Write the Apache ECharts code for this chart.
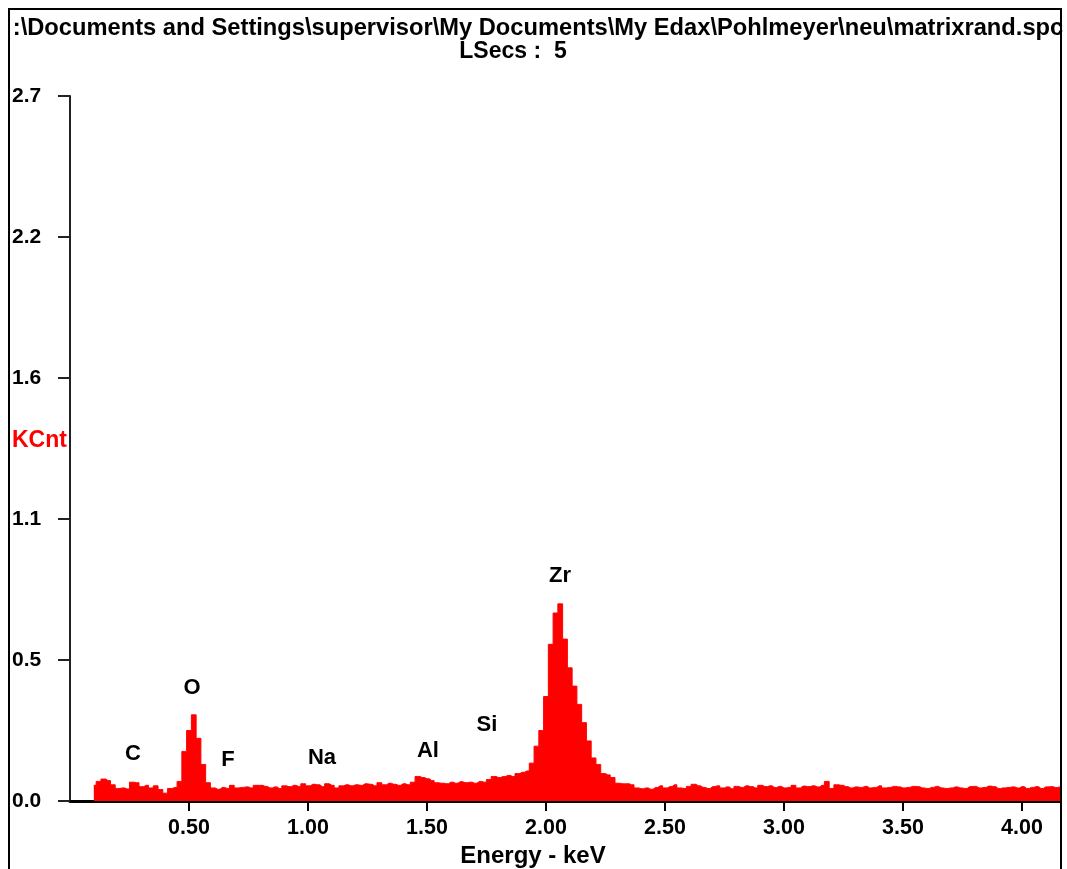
<!DOCTYPE html>
<html><head><meta charset="utf-8">
<script src="https://cdn.jsdelivr.net/npm/echarts@6/dist/echarts.min.js"></script>
<style>html,body{margin:0;padding:0;background:#fff}#c{width:1067px;height:869px}</style>
</head><body><div id="c"></div>
<script>
const titleLine = ':\\Documents and Settings\\supervisor\\My Documents\\My Edax\\Pohlmeyer\\neu\\matrixrand.spc';
const subtitleLine = 'LSecs :  5';
const yAxisTitle = 'KCnt';
const xAxisTitle = 'Energy - keV';

// channel energies: energyStart + i * energyStep (keV)
const energyStart = 0.10;
const energyStep = 0.02;
const counts = [
  0.060,0.075,0.084,0.078,0.062,0.048,0.050,0.046,0.072,0.070,
  0.055,0.060,0.050,0.058,0.044,0.030,0.048,0.052,0.075,0.190,
  0.270,0.330,0.240,0.140,0.070,0.050,0.045,0.052,0.048,0.060,
  0.050,0.052,0.054,0.050,0.060,0.060,0.056,0.050,0.054,0.048,
  0.058,0.055,0.060,0.056,0.066,0.058,0.064,0.062,0.055,0.066,
  0.060,0.050,0.058,0.062,0.058,0.062,0.060,0.066,0.064,0.058,
  0.070,0.062,0.068,0.064,0.060,0.066,0.062,0.072,0.094,0.090,
  0.085,0.078,0.070,0.068,0.066,0.072,0.068,0.074,0.070,0.072,
  0.068,0.075,0.072,0.082,0.094,0.090,0.094,0.098,0.094,0.105,
  0.110,0.115,0.145,0.210,0.270,0.400,0.600,0.720,0.755,0.620,
  0.510,0.440,0.370,0.300,0.230,0.165,0.140,0.105,0.100,0.090,
  0.068,0.066,0.066,0.062,0.050,0.047,0.050,0.045,0.052,0.058,
  0.050,0.055,0.062,0.050,0.048,0.056,0.064,0.058,0.052,0.048,
  0.055,0.058,0.050,0.054,0.047,0.056,0.052,0.058,0.055,0.050,
  0.060,0.055,0.058,0.052,0.056,0.050,0.052,0.060,0.050,0.057,
  0.055,0.058,0.054,0.060,0.075,0.048,0.062,0.060,0.055,0.050,
  0.054,0.052,0.056,0.050,0.052,0.058,0.050,0.052,0.056,0.054,
  0.050,0.052,0.056,0.055,0.050,0.048,0.052,0.056,0.050,0.048,
  0.050,0.054,0.050,0.048,0.055,0.056,0.050,0.052,0.057,0.055,
  0.048,0.050,0.052,0.054,0.050,0.055,0.048,0.052,0.055,0.048,
  0.054,0.055,0.052,0.054
];

const yTickLabels = ['0.0','0.5','1.1','1.6','2.2','2.7'];
const yMax = 2.7;
const yInterval = 0.54;
const xMax = 4.16;
const xInterval = 0.5;
const xTickValues = [0.5, 1.0, 1.5, 2.0, 2.5, 3.0, 3.5, 4.0];

const elementNames = ['C','O','F','Na','Al','Si','Zr'];
const elementEnergies = [0.265,0.513,0.664,1.059,1.504,1.752,2.059];
const elementLabelHeights = [0.18,0.433,0.157,0.165,0.192,0.292,0.863];

const spectrum = counts.map((v, i) => [+(energyStart + i * energyStep).toFixed(3), v]);
const elementPoints = elementNames.map((n, i) => [elementEnergies[i], elementLabelHeights[i], n]);

const FONT = 'Liberation Sans';
const chart = echarts.init(document.getElementById('c'), null, {renderer: 'canvas'});
chart.setOption({
  animation: false,
  backgroundColor: '#ffffff',
  grid: {left: 70, right: 7, top: 96, bottom: 68, containLabel: false, outerBoundsMode: 'none'},
  graphic: [
    {type: 'rect', shape: {x: 9, y: 9, width: 1052, height: 900}, style: {fill: 'none', stroke: '#000', lineWidth: 2}, z: 100},
    {type: 'text', style: {text: titleLine, x: 538, y: 28, align: 'center', verticalAlign: 'middle', font: 'bold 23.7px "' + FONT + '"', fill: '#000'}},
    {type: 'text', style: {text: subtitleLine, x: 513, y: 52, align: 'center', verticalAlign: 'middle', font: 'bold 23px "' + FONT + '"', fill: '#000'}},
    {type: 'text', style: {text: yAxisTitle, x: 12, y: 441, align: 'left', verticalAlign: 'middle', font: 'bold 23px "' + FONT + '"', fill: '#ff0000'}}
  ],
  xAxis: {
    type: 'value', min: 0, max: xMax, interval: xInterval,
    name: xAxisTitle, nameLocation: 'middle', nameGap: 43,
    nameTextStyle: {fontFamily: FONT, fontWeight: 'bold', fontSize: 24, color: '#000', padding: [0, 64, 0, 0]},
    axisLine: {show: true, lineStyle: {color: '#000', width: 3}},
    axisTick: {show: true, length: 10, customValues: xTickValues, lineStyle: {color: '#000', width: 2}},
    axisLabel: {
      show: true, margin: 16, fontFamily: FONT, fontWeight: 'bold', fontSize: 21.5, color: '#000',
      customValues: xTickValues,
      formatter: v => v.toFixed(2)
    },
    splitLine: {show: false}
  },
  yAxis: {
    type: 'value', min: 0, max: yMax, interval: yInterval,
    axisLine: {show: true, lineStyle: {color: '#222', width: 2}},
    axisTick: {show: true, length: 12, lineStyle: {color: '#222', width: 2}},
    axisLabel: {
      show: true, align: 'left', margin: 58, fontFamily: FONT, fontWeight: 'bold', fontSize: 21, color: '#000',
      formatter: v => yTickLabels[Math.round(v / yInterval)] || ''
    },
    splitLine: {show: false}
  },
  series: [
    {
      type: 'line', step: 'middle', symbol: 'none', data: spectrum,
      lineStyle: {color: '#ff0000', width: 1},
      areaStyle: {color: '#ff0000', opacity: 1},
      itemStyle: {color: '#ff0000'}, z: 2
    },
    {
      type: 'scatter', data: elementPoints, symbolSize: 0,
      itemStyle: {color: '#000', opacity: 1},
      label: {show: true, position: 'inside', formatter: p => p.data[2], fontFamily: FONT, fontWeight: 'bold', fontSize: 22, color: '#000', opacity: 1, textBorderWidth: 0},
      emphasis: {disabled: true},
      z: 5
    }
  ]
});
</script></body></html>
